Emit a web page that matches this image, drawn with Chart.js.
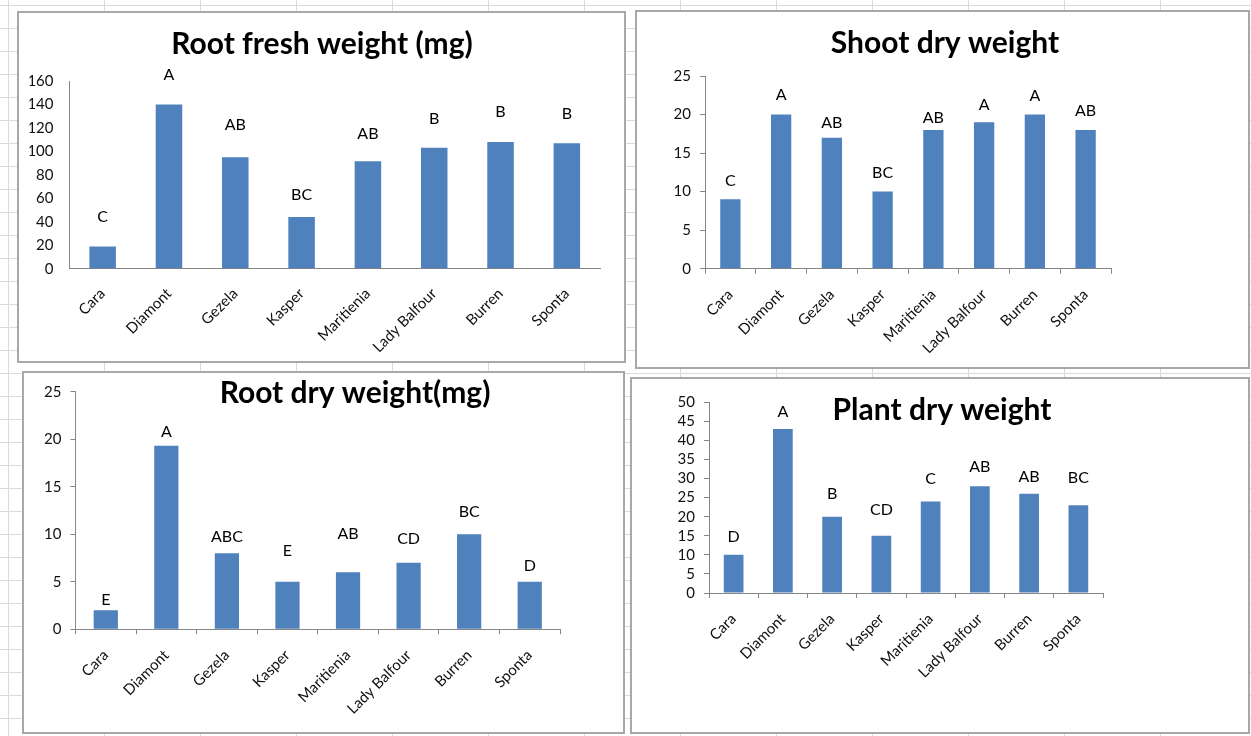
<!DOCTYPE html>
<html>
<head>
<meta charset="utf-8">
<script src="https://cdn.jsdelivr.net/npm/chart.js@4.4.0/dist/chart.umd.min.js"></script>
<style>
  html, body { margin: 0; padding: 0; }
  body {
    width: 1251px; height: 736px; overflow: hidden; position: relative;
    background-color: #fff;
    background-image:
      linear-gradient(to right, #dadada 1px, transparent 1px),
      linear-gradient(to bottom, #dadada 1px, transparent 1px);
    background-size: 96px 23px;
    background-position: 8px 5px;
  }
  .box { position: absolute; box-sizing: border-box; border: 2px solid #a8a8a8; background: #fff; }
  .box canvas { display: block; }
</style>
</head>
<body>
<div class="box" id="b1"><canvas id="c1"></canvas></div>
<div class="box" id="b2"><canvas id="c2"></canvas></div>
<div class="box" id="b3"><canvas id="c3"></canvas></div>
<div class="box" id="b4"><canvas id="c4"></canvas></div>
<script>
// cultivars on every x axis
const cultivars = ['Cara', 'Diamont', 'Gezela', 'Kasper', 'Maritienia', 'Lady Balfour', 'Burren', 'Sponta'];

// Root fresh weight (mg)
const rootFresh = [19, 140, 95, 44, 91.5, 103, 108, 107];
const rootFreshGroups = ['C', 'A', 'AB', 'BC', 'AB', 'B', 'B', 'B'];
const rootFreshLetterAt = [44, 165, 123, 63, 115, 128, 134, 132];

// Shoot dry weight
const shootDry = [9, 20, 17, 10, 18, 19, 20, 18];
const shootDryGroups = ['C', 'A', 'AB', 'BC', 'AB', 'A', 'A', 'AB'];
const shootDryLetterAt = [11.4, 22.5, 18.9, 12.5, 19.6, 21.2, 22.4, 20.5];

// Root dry weight(mg)
const rootDry = [2, 19.3, 8, 5, 6, 7, 10, 5];
const rootDryGroups = ['E', 'A', 'ABC', 'E', 'AB', 'CD', 'BC', 'D'];
const rootDryLetterAt = [3.1, 20.8, 9.75, 8.3, 10.0, 9.5, 12.35, 6.7];

// Plant dry weight
const plantDry = [10, 43, 20, 15, 24, 28, 26, 23];
const plantDryGroups = ['D', 'A', 'B', 'CD', 'C', 'AB', 'AB', 'BC'];
const plantDryLetterAt = [14.8, 47.6, 25.9, 21.8, 29.8, 33.1, 30.5, 30.1];

// y axis ranges [max, step]
const rootFreshAxis = [160, 20];
const shootDryAxis = [25, 5];
const rootDryAxis = [25, 5];
const plantDryAxis = [50, 5];

const FONT = 'Lato';
const AXIS_GREY = '#868686';
const BAR_BLUE = '#4f81bd';
const Y_W = 40, X_H = 90;

// draws the group letters above each bar
const groupLetters = {
    id: 'groupLetters',
    afterDatasetsDraw(chart, args, opts) {
        const ctx = chart.ctx;
        const meta = chart.getDatasetMeta(0);
        const ys = chart.scales.y;
        ctx.save();
        ctx.font = `16px ${FONT}`;
        ctx.fillStyle = '#000';
        ctx.textAlign = 'center';
        ctx.textBaseline = 'middle';
        opts.letters.forEach((l, i) => {
            ctx.fillText(l, meta.data[i].x, ys.getPixelForValue(opts.at[i]));
        });
        ctx.restore();
    }
};

// free-positioned title (Excel lets it overlap the plot)
const panelTitle = {
    id: 'panelTitle',
    afterDraw(chart, args, opts) {
        const ctx = chart.ctx;
        ctx.save();
        ctx.font = `bold 30px ${FONT}`;
        ctx.fillStyle = '#000';
        ctx.textAlign = 'center';
        ctx.textBaseline = 'middle';
        ctx.fillText(opts.text, opts.x, opts.y);
        ctx.restore();
    }
};

function drawPanel(id, box, area, title, values, axis, letters, letterAt, ticks) {
    const div = document.getElementById('b' + id);
    div.style.left = box.x + 'px';
    div.style.top = box.y + 'px';
    div.style.width = box.w + 'px';
    div.style.height = box.h + 'px';

    const cx = box.x + 2, cy = box.y + 2;
    const cw = box.w - 4, ch = box.h - 4;
    const canvas = document.getElementById('c' + id);
    canvas.width = cw;
    canvas.height = ch;

    const pad = {
        left: area.l - cx - Y_W,
        top: area.t - cy,
        right: cx + cw - area.r,
        bottom: cy + ch - area.b - X_H
    };

    new Chart(canvas, {
        type: 'bar',
        data: {
            labels: cultivars,
            datasets: [{
                data: values,
                backgroundColor: BAR_BLUE,
                borderWidth: 0,
                barPercentage: 0.4,
                categoryPercentage: 1
            }]
        },
        options: {
            responsive: false,
            animation: false,
            layout: { padding: pad },
            plugins: {
                legend: { display: false },
                tooltip: { enabled: false },
                groupLetters: { letters: letters, at: letterAt },
                panelTitle: { text: title.text, x: title.x - cx, y: title.y - cy }
            },
            scales: {
                x: {
                    grid: { drawOnChartArea: false, drawTicks: ticks, tickLength: 5, offset: true, color: AXIS_GREY },
                    border: { color: AXIS_GREY },
                    ticks: {
                        minRotation: 45, maxRotation: 45,
                        autoSkip: false,
                        padding: ticks ? 12 : 16,
                        color: '#111',
                        font: { family: FONT, size: 15 }
                    },
                    afterFit: s => { s.height = X_H; }
                },
                y: {
                    min: 0,
                    max: axis[0],
                    grid: { drawOnChartArea: false, drawTicks: ticks, tickLength: 5, color: AXIS_GREY },
                    border: { color: AXIS_GREY },
                    ticks: {
                        stepSize: axis[1],
                        autoSkip: false,
                        padding: ticks ? 9 : 16,
                        color: '#111',
                        font: { family: FONT, size: 15 }
                    },
                    afterFit: s => { s.width = Y_W; }
                }
            }
        },
        plugins: [groupLetters, panelTitle]
    });
}

drawPanel(1, { x: 17, y: 11, w: 609, h: 352 }, { l: 69.5, t: 81, r: 600, b: 268.7 },
    { text: 'Root fresh weight (mg)', x: 322, y: 44 },
    rootFresh, rootFreshAxis, rootFreshGroups, rootFreshLetterAt, false);

drawPanel(2, { x: 635, y: 10, w: 615, h: 359 }, { l: 705, t: 76, r: 1111, b: 268.7 },
    { text: 'Shoot dry weight', x: 945, y: 43 },
    shootDry, shootDryAxis, shootDryGroups, shootDryLetterAt, true);

drawPanel(3, { x: 22, y: 371, w: 603, h: 363 }, { l: 75.5, t: 391.7, r: 560, b: 629.3 },
    { text: 'Root dry weight(mg)', x: 355, y: 393 },
    rootDry, rootDryAxis, rootDryGroups, rootDryLetterAt, true);

drawPanel(4, { x: 630, y: 377, w: 620, h: 357 }, { l: 709, t: 402.3, r: 1103, b: 593 },
    { text: 'Plant dry weight', x: 942, y: 410 },
    plantDry, plantDryAxis, plantDryGroups, plantDryLetterAt, true);
</script>
</body>
</html>
